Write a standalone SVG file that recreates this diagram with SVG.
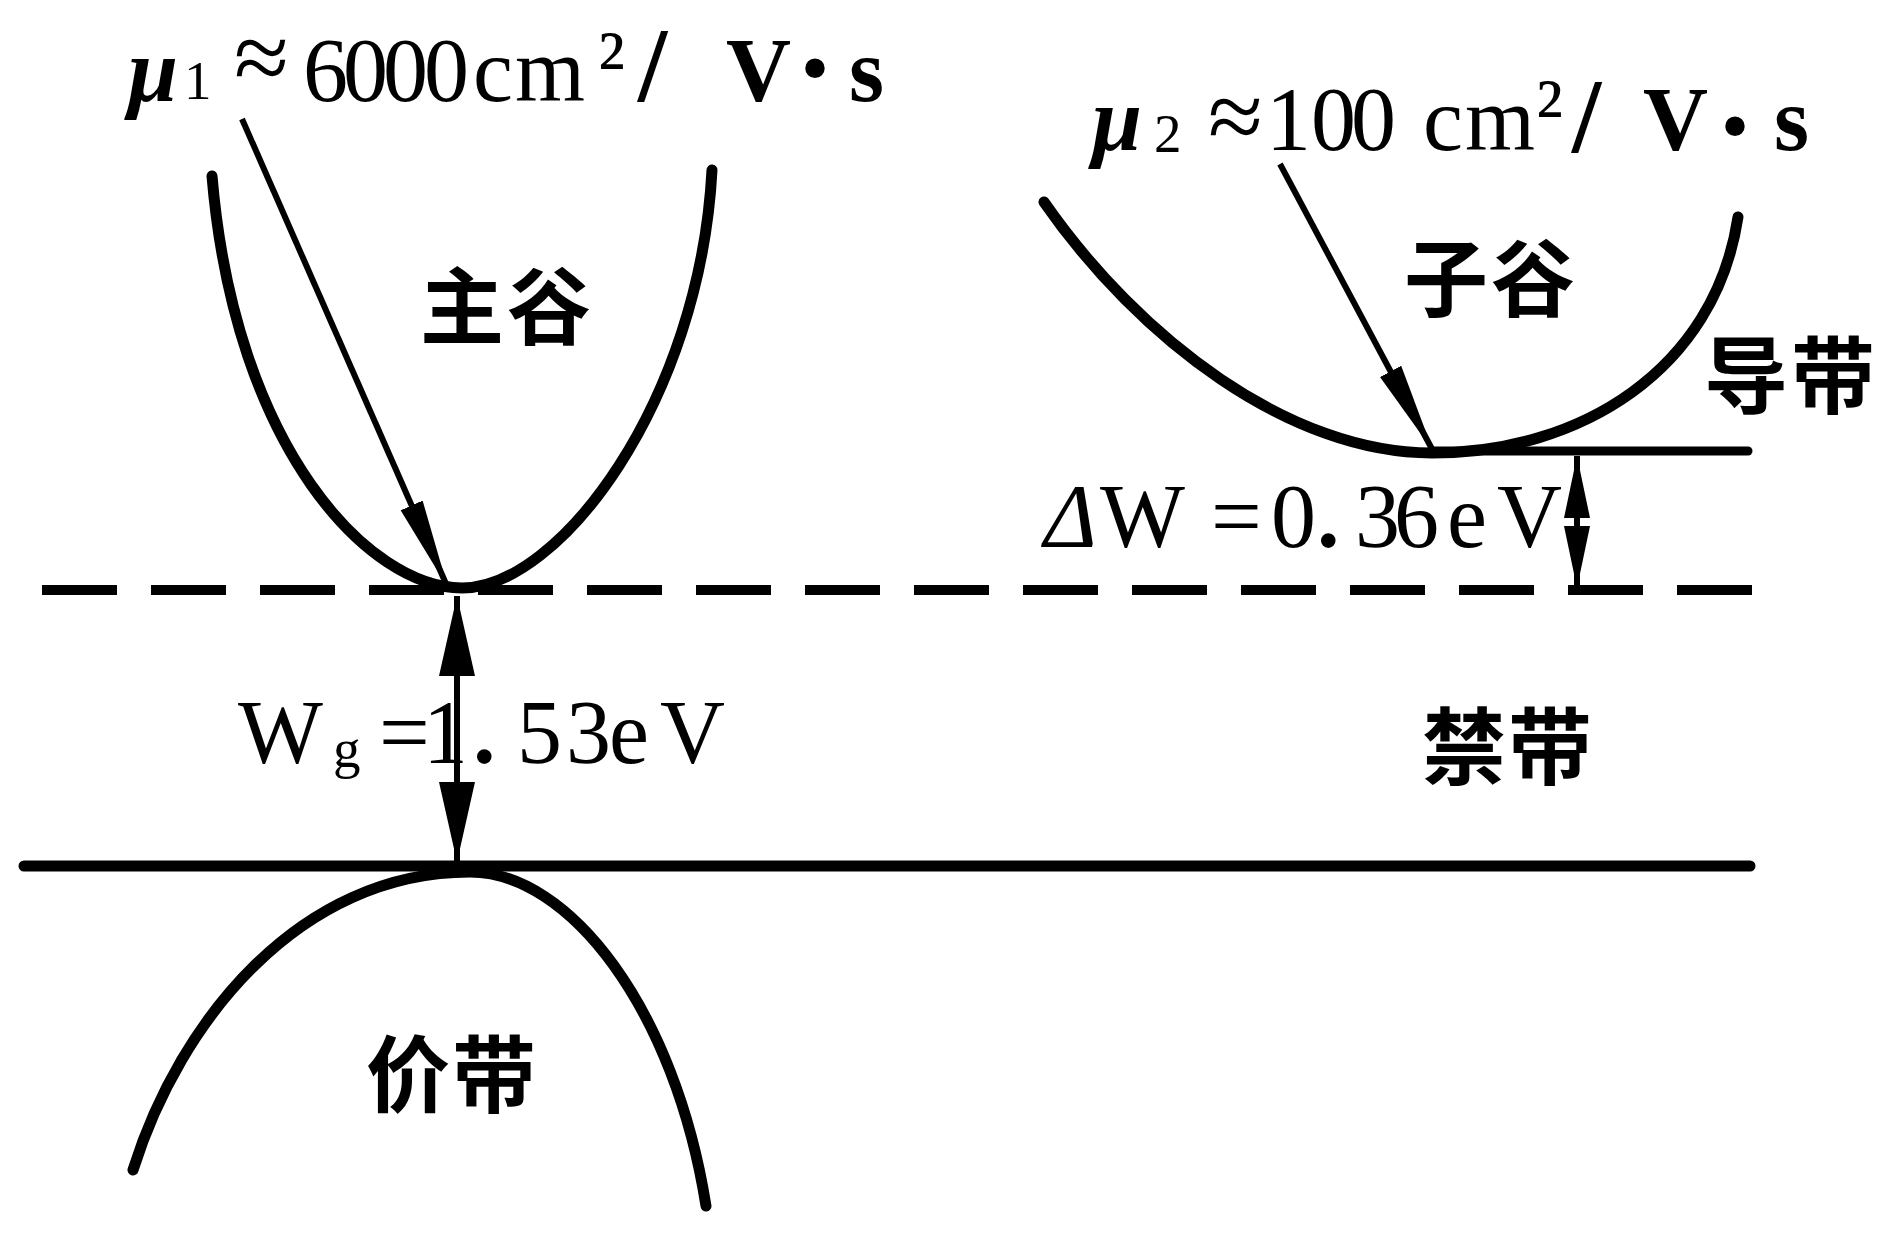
<svg xmlns="http://www.w3.org/2000/svg" width="1897" height="1233" viewBox="0 0 1897 1233">
<style>
.curve{fill:none;stroke:#000;stroke-width:11;stroke-linecap:round}
.solid{fill:none;stroke:#000;stroke-linecap:round}
.dash{fill:none;stroke:#000;stroke-width:10;stroke-dasharray:75 34}
.arr{fill:none;stroke:#000;stroke-width:6}
.lat{font-family:"Liberation Serif","DejaVu Serif",serif;font-size:90px;fill:#000}
.cjk{font-family:"Noto Sans CJK SC","Noto Sans CJK JP",sans-serif;font-size:84px;font-weight:700;fill:#000}
.b{font-weight:700}
.bi{font-weight:700;font-style:italic}
.it{font-style:italic}
.sub{font-size:55px}
.approx{font-size:100px}
.dot{font-size:120px;font-weight:700}
.sl{font-size:105px;font-weight:700}
</style>
<defs>
<marker id="headSlant" markerUnits="userSpaceOnUse" viewBox="0 0 90 28" refX="88" refY="14" markerWidth="90" markerHeight="28" orient="auto">
<path d="M0,2 L90,14 L0,26 Z" fill="#000"/>
</marker>
<marker id="headGap" markerUnits="userSpaceOnUse" viewBox="0 0 80 36" refX="80" refY="18" markerWidth="80" markerHeight="36" orient="auto-start-reverse">
<path d="M0,0 L80,18 L0,36 Z" fill="#000"/>
</marker>
<marker id="headDW" markerUnits="userSpaceOnUse" viewBox="0 0 62 26" refX="62" refY="13" markerWidth="62" markerHeight="26" orient="auto-start-reverse">
<path d="M0,0 L62,13 L0,26 Z" fill="#000"/>
</marker>
</defs>
<rect width="1897" height="1233" fill="#fff"/>

<g id="conduction-band-edge">
<line class="dash" x1="42" y1="590" x2="1752" y2="590"/>
</g>
<g id="valence-band-edge">
<line class="solid" stroke-width="11" x1="24" y1="866" x2="1750" y2="866"/>
</g>
<g id="sub-valley-level">
<line class="solid" stroke-width="9" x1="1432" y1="451" x2="1748" y2="451"/>
</g>

<g id="main-valley">
<path class="curve" d="M212,176 C235,450 370,588 462,588 C560,588 700,400 712,170"/>
<text class="cjk" x="420 507" y="338">主谷</text>
</g>

<g id="sub-valley">
<path class="curve" d="M1044,202 C1140,340 1290,453 1432,453 C1580,453 1715,370 1738,217"/>
<text class="cjk" x="1404 1491" y="310">子谷</text>
</g>

<g id="valence-band">
<path class="curve" d="M133,1170 C180,1020 300,872 470,872 C570,872 675,1010 706,1206"/>
<text class="cjk" x="366 452" y="1106">价带</text>
</g>

<g id="conduction-band-label">
<text class="cjk" x="1704 1791" y="407">导带</text>
</g>

<g id="forbidden-band-label">
<text class="cjk" x="1422 1508" y="778">禁带</text>
</g>

<g id="mu1-label">
<text class="lat" y="101"><tspan class="bi" x="128">μ</tspan><tspan class="sub" x="184" y="99">1</tspan><tspan class="approx" x="234" y="91">≈</tspan><tspan x="303 343 383 424" y="101">6000</tspan><tspan x="473 515">cm</tspan><tspan x="598" y="92">²</tspan><tspan class="sl" x="638" y="101">/ </tspan><tspan class="b" x="726">V</tspan><tspan class="dot" x="795" y="108">·</tspan><tspan class="b" x="849" y="101">s</tspan></text>
</g>

<g id="mu2-label">
<text class="lat" y="150"><tspan class="bi" x="1092">μ</tspan><tspan class="sub" x="1154" y="152">2</tspan><tspan class="approx" x="1208" y="150">≈</tspan><tspan x="1266 1311 1351" y="150">100 </tspan><tspan x="1423 1465">cm</tspan><tspan x="1536" y="140">²</tspan><tspan class="sl" x="1572" y="152">/ </tspan><tspan class="b" x="1643" y="150">V</tspan><tspan class="dot" x="1715" y="166">·</tspan><tspan class="b" x="1774" y="150">s</tspan></text>
</g>

<g id="dw-label">
<text class="lat" y="547"><tspan class="it" x="1044">Δ</tspan><tspan x="1100">W </tspan><tspan x="1211 1271">=0</tspan><tspan class="b" x="1317">.</tspan><tspan x="1355 1394 1447 1497">36eV</tspan></text>
</g>

<g id="gap-label">
<text class="lat" y="763"><tspan x="238">W</tspan><tspan class="sub" x="333" y="767">g</tspan><tspan x="379 423" y="763">=1</tspan><tspan class="b" x="473">.</tspan><tspan x="517 566 609 660">53eV</tspan></text>
</g>

<g id="connectors">
<line class="arr" x1="242" y1="119" x2="447" y2="586" marker-end="url(#headSlant)"/>
<line class="arr" x1="1280" y1="164" x2="1432" y2="449" marker-end="url(#headSlant)"/>
<line class="arr" x1="457" y1="596" x2="457" y2="862" marker-start="url(#headGap)" marker-end="url(#headGap)"/>
<line class="arr" x1="1577" y1="456" x2="1577" y2="588" marker-start="url(#headDW)" marker-end="url(#headDW)"/>
</g>
</svg>
